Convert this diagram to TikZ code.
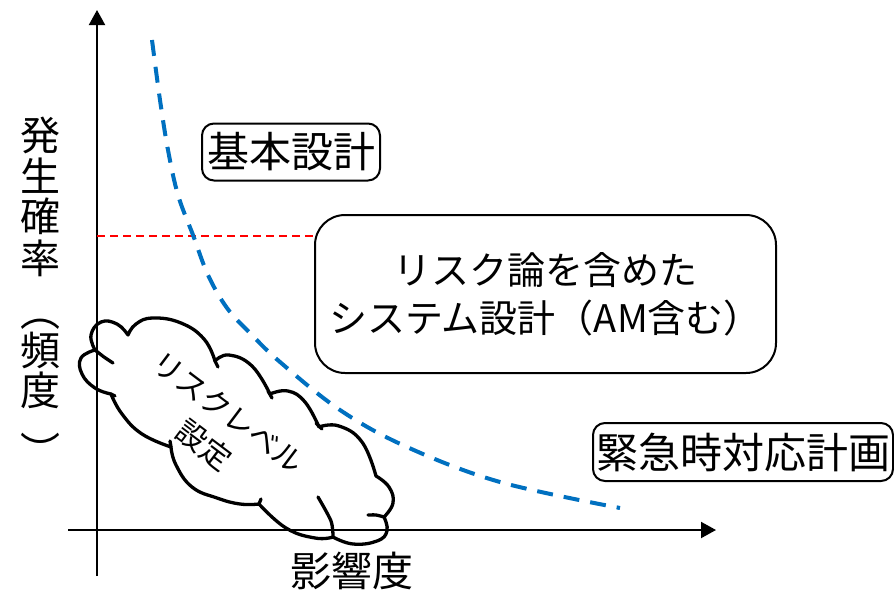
\documentclass[tikz,border=0pt]{standalone}
\usepackage{fontspec}
\setmainfont{Noto Sans CJK JP}
\usetikzlibrary{arrows.meta}
\definecolor{curveblue}{RGB}{0,112,192}
\tikzset{
  axisline/.style={line width=2pt,-{Triangle[length=15pt,width=16pt]}},
  labelbox/.style={draw,line width=2pt,inner sep=0pt,align=center},
  ylab/.style={inner sep=0pt,text height=0.8em,text depth=0.1em,font=\fontsize{40}{40}\selectfont},
  cloudline/.style={line width=3.3pt,line join=round,line cap=round},
}
\begin{document}
\begin{tikzpicture}[x=1pt,y=-1pt]
\useasboundingbox (0,0) rectangle (894,592);
% axes
\coordinate (yb) at (97,576);
\coordinate (yt) at (97,10);
\coordinate (xl) at (68,530);
\coordinate (xr) at (716,530);
\draw[axisline] (yb) -- (yt);
\draw[axisline] (xl) -- (xr);
% y label
\foreach \c/\yy/\n in {発/147/a,生/188/b,確/228/c,率/270/d,︵/323/e,頻/362/f,度/402/g,︶/463/h}
  \node[ylab] (yl\n) at (40,\yy) {\c};
% x label
\node[inner sep=0pt,font=\fontsize{41}{41}\selectfont] (xlab) at (352,571) {影響度};
% boxes
\node[labelbox,rounded corners=12pt,minimum width=178pt,minimum height=57pt,font=\fontsize{42}{42}\selectfont] (basic) at (291,152) {基本設計};
\node[labelbox,rounded corners=30pt,minimum width=461pt,minimum height=158pt,font=\fontsize{38}{48}\selectfont] (risk) at (545.5,294) {リスク論を含めた\\システム設計（AM含む）};
\node[labelbox,rounded corners=12pt,minimum width=300pt,minimum height=58pt,font=\fontsize{42}{42}\selectfont] (emer) at (743,452) {緊急時対応計画};
% red dashed line
\coordinate (rl) at (97,236);
\draw[red,line width=1.5pt,dash pattern=on 8pt off 5pt] (rl) -- (risk.west |- rl);
% blue curve
\draw[curveblue,line width=4pt,dash pattern=on 16pt off 11pt]
  plot[smooth,tension=0.6] coordinates {(152,40) (160,100) (168,150) (178,195) (193,235) (208,275) (227,308) (250,333) (280,362) (340,410) (407,447) (500,482) (620,508)};
% cloud outline
\draw[cloudline]
  plot[smooth,tension=0.75] coordinates {(95,350) (91,335) (101,322) (117,324) (128,335)}
  -- plot[smooth,tension=0.75] coordinates {(128,335) (136,324) (153,318) (181,323) (204,339) (215,361)}
  -- plot[smooth,tension=0.75] coordinates {(215,361) (229,355) (252,366) (270,394)}
  -- plot[smooth,tension=0.75] coordinates {(270,394) (288,391) (305,402) (319,427)}
  -- plot[smooth,tension=0.75] coordinates {(319,427) (339,426) (362,442) (376,476)}
  -- plot[smooth,tension=0.75] coordinates {(376,476) (389,487) (393,503) (384,517)}
  -- plot[smooth,tension=0.75] coordinates {(384,517) (387,531) (377,541) (353,544) (333,537)}
  -- plot[smooth,tension=0.75] coordinates {(333,537) (315,538) (286,528) (259,504)}
  -- plot[smooth,tension=0.75] coordinates {(259,504) (240,504) (217,498) (192,487) (176,465) (171,447)}
  -- plot[smooth,tension=0.75] coordinates {(171,447) (142,434) (122,414) (111,394)}
  -- plot[smooth,tension=0.75] coordinates {(111,394) (95,388) (82,374) (81,358) (95,350)}
  -- cycle;
% cloud inner arcs
\draw[cloudline] plot[smooth] coordinates {(95,350) (104,357) (113,363)};
\draw[cloudline] (215,361) -- (218,367);
\draw[cloudline] (268,391) -- (272,398);
\draw[cloudline] (316,423) -- (322,429);
\draw[cloudline] plot[smooth] coordinates {(384,517) (376,515) (368,515)};
\draw[cloudline] plot[smooth] coordinates {(333,537) (331,521) (318,497)};
\draw[cloudline] (259,504) -- (261,499);
\draw[cloudline] (171,447) -- (170,441);
\draw[cloudline] (111,394) -- (115,396);
% cloud text
\node[align=center,inner sep=0pt,rotate=-37,font=\fontsize{30}{41}\selectfont] (cltext) at (216,429) {リスクレベル\\設定};
\end{tikzpicture}
\end{document}
